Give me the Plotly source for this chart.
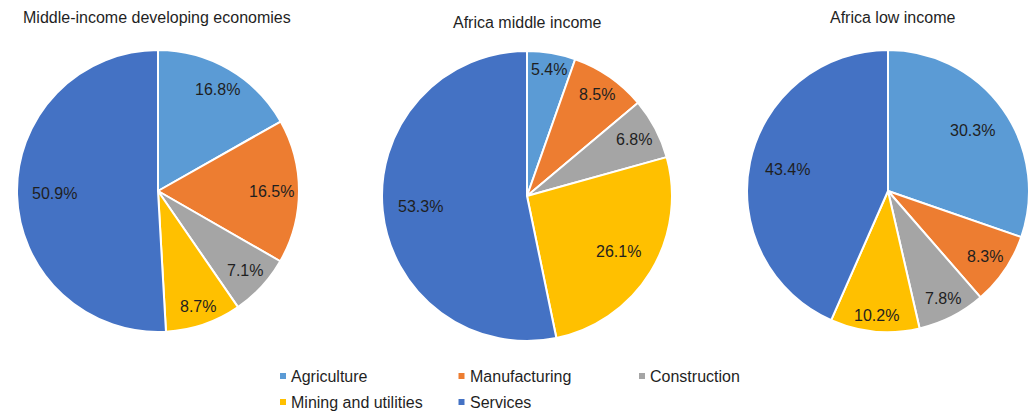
import math
import plotly.graph_objects as go

W, H = 1029, 411

sectors = ["Agriculture", "Manufacturing", "Construction", "Mining and utilities", "Services"]
colors = ["#5B9BD5", "#ED7D31", "#A5A5A5", "#FFC000", "#4472C4"]

titles = ["Middle-income developing economies", "Africa middle income", "Africa low income"]
middle_income_dev = [16.8, 16.5, 7.1, 8.7, 50.9]
africa_middle = [5.4, 8.5, 6.8, 26.1, 53.3]
africa_low = [30.3, 8.3, 7.8, 10.2, 43.4]
series = [middle_income_dev, africa_middle, africa_low]

# pie placement in pixels: centre x, centre y, radius
pie_geometry = [(158, 191, 141), (527, 196, 145), (888, 191, 141)]
title_pos = [(157, 18), (527, 22), (892, 18)]

FONT = "Liberation Sans, Arial, sans-serif"
TEXT = "#1f1f1f"
FS = 16

# Arial advance widths (em) for label glyphs
GLYPH_EM = {".": 0.278, "%": 0.889}


def text_width(s, size=FS):
    return sum(GLYPH_EM.get(ch, 0.556) for ch in s) * size


def label_offset(angle_deg, label, r, k, hh=8.0):
    """Distance from centre so that the label box's outer corner sits at k*r."""
    ux = abs(math.sin(math.radians(angle_deg)))
    uy = abs(math.cos(math.radians(angle_deg)))
    hw = text_width(label) / 2
    b = ux * hw + uy * hh
    c = hw * hw + hh * hh - (k * r) ** 2
    return -b + math.sqrt(b * b - c)


fig = go.Figure()
annotations = []

for vals, (cx, cy, r), title, (tx, ty) in zip(series, pie_geometry, titles, title_pos):
    fig.add_trace(go.Pie(
        labels=sectors,
        values=vals,
        sort=False,
        direction="clockwise",
        rotation=0,
        marker=dict(colors=colors, line=dict(color="white", width=2)),
        textinfo="none",
        hoverinfo="label+value",
        showlegend=False,
        domain=dict(x=[(cx - r) / W, (cx + r) / W],
                    y=[(H - cy - r) / H, (H - cy + r) / H]),
    ))
    annotations.append(dict(
        text=title, x=tx / W, y=1 - ty / H, xref="paper", yref="paper",
        xanchor="center", yanchor="middle", showarrow=False,
        font=dict(family=FONT, size=FS, color=TEXT),
    ))
    # value labels at each slice's mid angle; narrow slices push labels outward
    total = sum(vals)
    cum = 0.0
    for v in vals:
        mid = (cum + v / 2) / total * 360.0
        cum += v
        label = f"{v:.1f}%"
        k = 0.97 if v < 20 else 0.9
        d = label_offset(mid, label, r, k)
        px = cx + d * math.sin(math.radians(mid))
        py = cy - d * math.cos(math.radians(mid))
        annotations.append(dict(
            text=label, x=px / W, y=1 - py / H, xref="paper", yref="paper",
            xanchor="center", yanchor="middle", showarrow=False,
            font=dict(family=FONT, size=FS, color=TEXT),
        ))

# legend: two rows of swatches with labels
legend_slots = [(283, 376), (461.5, 376), (642, 376), (283, 402), (461.5, 402)]
shapes = []
for name, col, (mx, my) in zip(sectors, colors, legend_slots):
    shapes.append(dict(
        type="rect", xref="paper", yref="paper",
        x0=(mx - 3) / W, x1=(mx + 3) / W, y0=1 - (my + 3) / H, y1=1 - (my - 3) / H,
        fillcolor=col, line=dict(width=0),
    ))
    annotations.append(dict(
        text=name, x=(mx + 6) / W, y=1 - my / H, xref="paper", yref="paper",
        xanchor="left", yanchor="middle", showarrow=False,
        font=dict(family=FONT, size=FS, color=TEXT),
    ))

fig.update_layout(
    width=W, height=H,
    margin=dict(l=0, r=0, t=0, b=0),
    paper_bgcolor="white", plot_bgcolor="white",
    annotations=annotations, shapes=shapes,
    showlegend=False,
)

fig.write_html("out.html")
